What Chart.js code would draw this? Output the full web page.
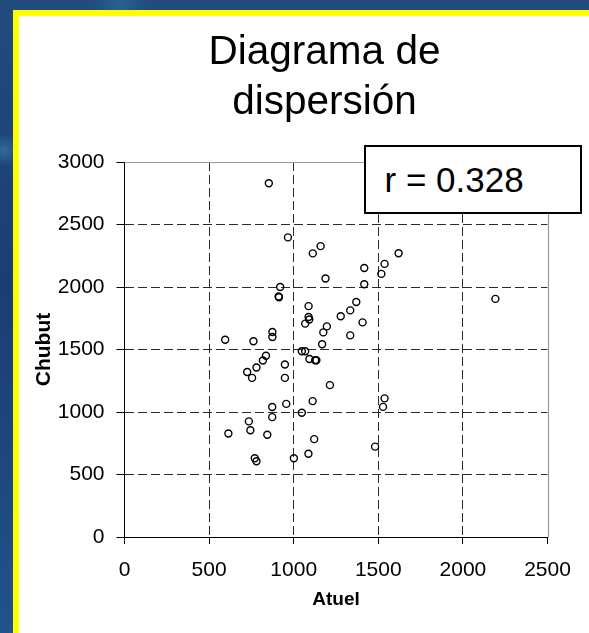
<!DOCTYPE html>
<html>
<head>
<meta charset="utf-8">
<script src="https://cdn.jsdelivr.net/npm/chart.js@4.4.1/dist/chart.umd.min.js"></script>
<style>
  html, body { margin: 0; padding: 0; overflow: hidden; }
  body {
    width: 589px; height: 633px; position: relative;
    font-family: "Liberation Sans", Arial, sans-serif;
    background:
      radial-gradient(circle at 4px 150px, #2f6e98 0, rgba(0,0,0,0) 16px),
      radial-gradient(circle at 120px 4px, #2a6290 0, rgba(0,0,0,0) 26px),
      linear-gradient(180deg, #224c7e 0%, #1b3d73 45%, #21528a 100%);
  }
  #panel {
    position: absolute; left: 13px; top: 10px; width: 620px; height: 660px;
    background: #fff; border: 6px solid #ffff00;
  }
  #chart { position: absolute; left: 0; top: 0; }
  #title {
    position: absolute; left: 174.5px; top: 25px; width: 300px;
    text-align: center; font-size: 40.5px; line-height: 50px; color: #000;
  }
  #rbox {
    position: absolute; left: 364px; top: 145px; width: 214px; height: 65px;
    border: 2px solid #000; background: #fff;
  }
  #rbox span {
    position: absolute; left: 18.5px; top: 14.7px;
    font-size: 35px; line-height: 35px; white-space: nowrap; color: #000;
  }
</style>
</head>
<body>
<div id="panel"></div>
<canvas id="chart" width="589" height="633"></canvas>
<div id="title">Diagrama de<br>dispersión</div>
<div id="rbox"><span>r = 0.328</span></div>
<script>
// values
const atuel = [
  853, 966, 1159, 1113, 1620, 1417, 1537, 1518, 1188, 1417,
  920, 911, 913, 2192, 1370, 1088, 1334, 1278, 1088, 1092,
  1068, 1407, 1196, 1175, 1334, 874, 874, 595, 762, 1168,
  1048, 1068, 836, 1093, 1127, 1134, 818, 948, 780, 725,
  754, 948, 1214, 1537, 1112, 956, 873, 1528, 1048, 873,
  735, 744, 614, 844, 1121, 1481, 1087, 1001, 770, 780
];
const chubut = [
  2830, 2397, 2327, 2269, 2270, 2152, 2185, 2105, 2068, 2022,
  2000, 1925, 1918, 1905, 1880, 1847, 1813, 1766, 1760, 1740,
  1707, 1717, 1685, 1637, 1613, 1640, 1600, 1578, 1566, 1542,
  1486, 1486, 1450, 1424, 1414, 1414, 1412, 1380, 1356, 1320,
  1273, 1273, 1215, 1109, 1087, 1065, 1040, 1041, 994, 959,
  925, 854, 828, 818, 783, 723, 666, 630, 630, 606
];
const xTicks = [0, 500, 1000, 1500, 2000, 2500];
const yTicks = [0, 500, 1000, 1500, 2000, 2500, 3000];
const xTitle = 'Atuel';
const yTitle = 'Chubut';

const fontFamily = '"Liberation Sans", Arial, sans-serif';
Chart.defaults.font.family = fontFamily;

const points = atuel.map((x, i) => ({x: x, y: chubut[i]}));

// dashed inner grid only, first/last lines are the frame
function gridColor(list) {
  return c => (c.index === 0 || c.index === list.length - 1) ? 'rgba(0,0,0,0)' : '#2a2a2a';
}

// grey top and right edge of the plot area
const frame = {
  id: 'frame',
  beforeDatasetsDraw(chart) {
    const {ctx, chartArea} = chart;
    const l = Math.round(chartArea.left) + 0.5;
    const t = Math.round(chartArea.top) + 0.5;
    const r = Math.round(chartArea.right) + 0.5;
    const b = Math.round(chartArea.bottom) + 0.5;
    ctx.save();
    ctx.strokeStyle = '#9a9a9a';
    ctx.lineWidth = 1.2;
    ctx.beginPath();
    ctx.moveTo(l, t);
    ctx.lineTo(r, t);
    ctx.lineTo(r, b);
    ctx.stroke();
    ctx.restore();
  }
};

new Chart(document.getElementById('chart'), {
  type: 'scatter',
  data: {
    datasets: [{
      data: points,
      pointStyle: 'circle',
      pointRadius: 3.5,
      pointHoverRadius: 3.5,
      pointBorderWidth: 1.4,
      borderColor: '#000',
      backgroundColor: 'rgba(0,0,0,0)'
    }]
  },
  options: {
    responsive: false,
    animation: false,
    devicePixelRatio: 1,
    layout: { padding: { left: 0, top: 162, right: 41.5, bottom: 0 } },
    plugins: {
      legend: { display: false },
      tooltip: { enabled: false }
    },
    scales: {
      x: {
        type: 'linear',
        min: 0,
        max: 2500,
        afterBuildTicks: s => { s.ticks = xTicks.map(v => ({value: v})); },
        afterFit: s => { s.height = 96; },
        grid: { color: gridColor(xTicks), lineWidth: 1, tickLength: 7, tickColor: '#000', tickWidth: 1 },
        border: { display: true, color: '#000', width: 1, dash: [9, 4] },
        ticks: {
          color: '#000', padding: 14, maxRotation: 0,
          font: { size: 21 },
          callback: v => String(v)
        },
        title: {
          display: true, text: xTitle, color: '#000',
          font: { size: 19, weight: 'bold', lineHeight: 1.2 },
          padding: { top: 0, bottom: 22 }
        }
      },
      y: {
        type: 'linear',
        min: 0,
        max: 3000,
        afterBuildTicks: s => { s.ticks = yTicks.map(v => ({value: v})); },
        afterFit: s => { s.width = 124.5; },
        grid: { color: gridColor(yTicks), lineWidth: 1, tickLength: 8, tickColor: '#000', tickWidth: 1 },
        border: { display: true, color: '#000', width: 1, dash: [9, 4] },
        ticks: {
          color: '#000', padding: 12,
          font: { size: 21 },
          callback: v => String(v)
        },
        title: {
          display: true, text: yTitle, color: '#000',
          font: { size: 21, weight: 'bold', lineHeight: 1.2 },
          padding: { top: 31.4, bottom: 0 }
        }
      }
    }
  },
  plugins: [frame]
});
</script>
</body>
</html>
